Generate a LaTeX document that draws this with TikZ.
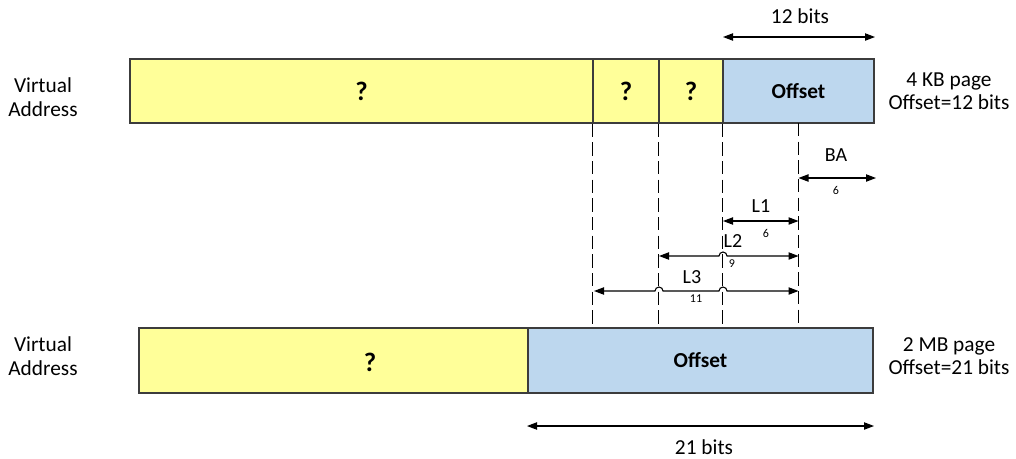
\documentclass[tikz,border=0pt]{standalone}
\usepackage{fontspec}
\setmainfont{Carlito}
\usetikzlibrary{arrows.meta}
\definecolor{fieldyellow}{RGB}{255,255,153}
\definecolor{fieldblue}{RGB}{189,215,238}
\definecolor{edgegray}{RGB}{60,60,60}
\begin{document}
\begin{tikzpicture}[x=0.75pt,y=-0.75pt,
  field/.style={draw=edgegray,line width=1pt,inner sep=0pt,font=\fontsize{16}{19}\selectfont\bfseries},
  yfield/.style={field,fill=fieldyellow,font=\fontsize{20}{24}\selectfont\bfseries},
  bfield/.style={field,fill=fieldblue},
  guide/.style={draw=black,line width=0.75pt,dash pattern=on 10pt off 4pt},
  dimline/.style={draw=black,line width=0.8pt,{Triangle[length=7.5pt,width=5.5pt]}-{Triangle[length=7.5pt,width=5.5pt]}},
  side/.style={align=center,font=\fontsize{16}{17.5}\selectfont},
  dimlabel/.style={font=\fontsize{15}{18}\selectfont},
  bitnum/.style={font=\fontsize{9}{10}\selectfont},
  hop/.style={start angle=180,end angle=0,radius=3pt},
]
\useasboundingbox (0,0) rectangle (1016,458);

% 4 KB page address
\node[yfield,minimum width=347.25pt,minimum height=48pt] (q1) at (361.5,91) {?};
\node[yfield,minimum width=49.5pt,minimum height=48pt] (q2) at (626,91) {?};
\node[yfield,minimum width=48pt,minimum height=48pt] (q3) at (691,91) {?};
\node[bfield,minimum width=113.25pt,minimum height=48pt] (off1) at (798.5,91) {Offset};

% 2 MB page address
\node[yfield,minimum width=291.75pt,minimum height=48.75pt] (q4) at (333.5,360.5) {};
\node[font=\fontsize{20}{24}\selectfont\bfseries] (q4t) at (370,362) {?};
\node[bfield,minimum width=258.75pt,minimum height=48.75pt] (off2) at (700.5,360.5) {Offset};

% side labels
\node[side] (va1) at (43,97) {Virtual\\Address};
\node[side] (va2) at (43,356) {Virtual\\Address};
\node[side] (pg1) at (949,91) {4 KB page\\Offset=12 bits};
\node[side] (pg2) at (949,356) {2 MB page\\Offset=21 bits};

% guide lines between the two addresses
\coordinate (bacut) at (798.5,123);
\draw[guide] (q2.south west) -- (q2.south west |- q4.north);
\draw[guide] (q3.south west) -- (q3.south west |- q4.north);
\draw[guide] (off1.south west) -- (off1.south west |- q4.north);
\draw[guide] (bacut) -- (bacut |- q4.north);

% 12 bits
\coordinate (w12a) at (723,37);
\coordinate (w12b) at (875,37);
\draw[dimline] (w12a) -- (w12b);
\node[font=\fontsize{16}{19}\selectfont] (w12t) at (800,16) {12 bits};

% BA
\coordinate (baa) at (798.5,178);
\coordinate (bab) at (876,178);
\draw[dimline] (baa) -- (bab);
\node[dimlabel] (bat) at (836,155) {BA};
\node[bitnum] (ban) at (836,190) {6};

% L1
\coordinate (l1a) at (723,221);
\coordinate (l1b) at (798.5,221);
\draw[dimline] (l1a) -- (l1b);
\node[dimlabel] (l1t) at (761,206) {L1};
\node[bitnum] (l1n) at (766,233) {6};

% L2, hopping over one guide line
\coordinate (l2a) at (659,256);
\coordinate (l2h) at (723,256);
\coordinate (l2b) at (798.5,256);
\draw[dimline] (l2a) -- ([xshift=-3pt]l2h) arc[hop] -- (l2b);
\node[dimlabel] (l2t) at (733,241) {L2};
\node[bitnum] (l2n) at (732,264) {9};

% L3, hopping over two guide lines
\coordinate (l3a) at (594,291);
\coordinate (l3h) at (659,291);
\coordinate (l3k) at (723,291);
\coordinate (l3b) at (798.5,291);
\draw[dimline] (l3a) -- ([xshift=-3pt]l3h) arc[hop] -- ([xshift=-3pt]l3k) arc[hop] -- (l3b);
\node[dimlabel] (l3t) at (692,277) {L3};
\node[bitnum] (l3n) at (696,299) {11};

% 21 bits
\coordinate (w21a) at (527,426);
\coordinate (w21b) at (874,426);
\draw[dimline] (w21a) -- (w21b);
\node[font=\fontsize{16}{19}\selectfont] (w21t) at (704,447) {21 bits};
\end{tikzpicture}
\end{document}
